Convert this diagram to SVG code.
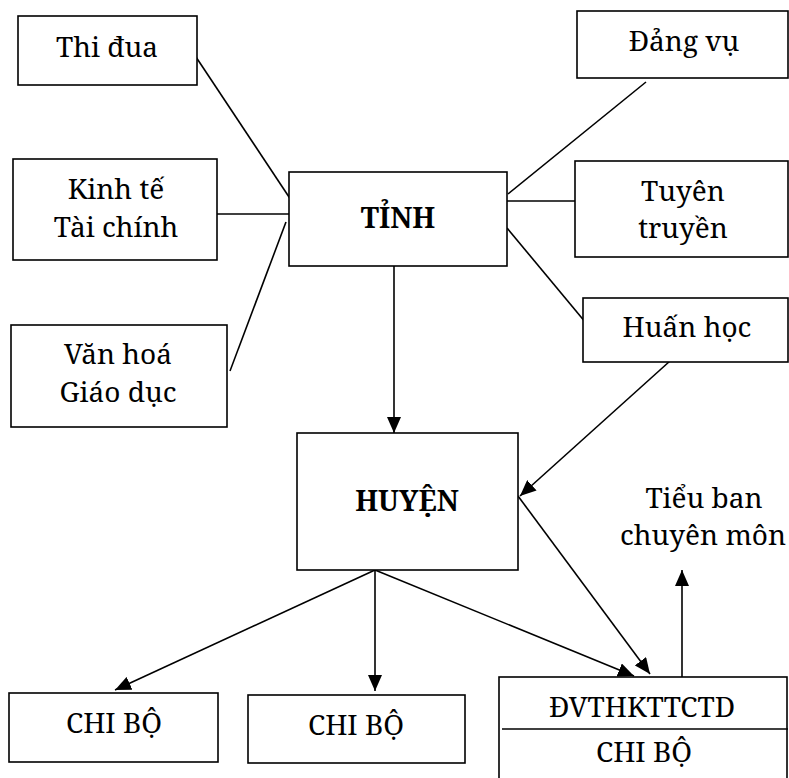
<svg xmlns="http://www.w3.org/2000/svg" width="789" height="778" viewBox="0 0 789 778">
<style>
.box{fill:#fff;stroke:#000;stroke-width:1.6}
.ln{stroke:#000;stroke-width:1.6;fill:none}
.t{font-family:"Noto Serif","Liberation Serif",serif;font-size:28px;fill:#000;text-anchor:middle}
.b{font-weight:bold;font-size:28px}
</style>
<defs>
<marker id="ah" markerUnits="userSpaceOnUse" markerWidth="16" markerHeight="14" refX="16" refY="7" orient="auto">
<path d="M0,0 L16,7 L0,14 z" fill="#000"/>
</marker>
</defs>
<g id="connectors">
<line class="ln" x1="196" y1="57" x2="293" y2="203"/>
<line class="ln" x1="217" y1="214" x2="291" y2="214"/>
<line class="ln" x1="230" y1="371" x2="286" y2="222"/>
<line class="ln" x1="646" y1="82" x2="508" y2="194"/>
<line class="ln" x1="507" y1="201" x2="578" y2="201"/>
<line class="ln" x1="507" y1="228" x2="586" y2="323"/>
<line class="ln" x1="394" y1="266" x2="394" y2="433" marker-end="url(#ah)"/>
<line class="ln" x1="670" y1="361" x2="520" y2="496" marker-end="url(#ah)"/>
<line class="ln" x1="375" y1="570" x2="115" y2="690" marker-end="url(#ah)"/>
<line class="ln" x1="375" y1="570" x2="375" y2="691" marker-end="url(#ah)"/>
<line class="ln" x1="375" y1="570" x2="634" y2="676" marker-end="url(#ah)"/>
<line class="ln" x1="518" y1="496" x2="650" y2="674" marker-end="url(#ah)"/>
<line class="ln" x1="682" y1="677" x2="682" y2="570" marker-end="url(#ah)"/>
</g>
<g id="thidua"><rect class="box" x="18" y="16" width="179" height="69"/><text class="t" x="107" y="57">Thi đua</text></g>
<g id="kinhte"><rect class="box" x="13" y="159" width="204" height="101"/><text class="t" x="116" y="199">Kinh tế</text><text class="t" x="116" y="237">Tài chính</text></g>
<g id="vanhoa"><rect class="box" x="11" y="325" width="216" height="102"/><text class="t" x="118" y="364">Văn hoá</text><text class="t" x="118" y="402">Giáo dục</text></g>
<g id="tinh"><rect class="box" x="289" y="172" width="218" height="94"/><text class="t b" x="398" y="228">TỈNH</text></g>
<g id="dangvu"><rect class="box" x="577" y="11" width="211" height="67"/><text class="t" x="684" y="51">Đảng vụ</text></g>
<g id="tuyentruyen"><rect class="box" x="575" y="161" width="213" height="96"/><text class="t" x="683" y="201">Tuyên</text><text class="t" x="683" y="238">truyền</text></g>
<g id="huanhoc"><rect class="box" x="583" y="298" width="205" height="64"/><text class="t" x="687" y="337">Huấn học</text></g>
<g id="huyen"><rect class="box" x="297" y="433" width="221" height="137"/><text class="t b" x="407" y="511">HUYỆN</text></g>
<g id="tieuban"><text class="t" x="704" y="508">Tiểu ban</text><text class="t" x="703" y="545">chuyên môn</text></g>
<g id="chibo1"><rect class="box" x="9" y="693" width="209" height="69"/><text class="t" x="114" y="733">CHI BỘ</text></g>
<g id="chibo2"><rect class="box" x="248" y="695" width="217" height="68"/><text class="t" x="356" y="735">CHI BỘ</text></g>
<g id="dvth"><rect class="box" x="499" y="677" width="288" height="120"/><line class="ln" x1="502" y1="729" x2="788" y2="729"/><text class="t" x="642" y="717">ĐVTHKTTCTD</text><text class="t" x="644" y="762">CHI BỘ</text></g>
</svg>
